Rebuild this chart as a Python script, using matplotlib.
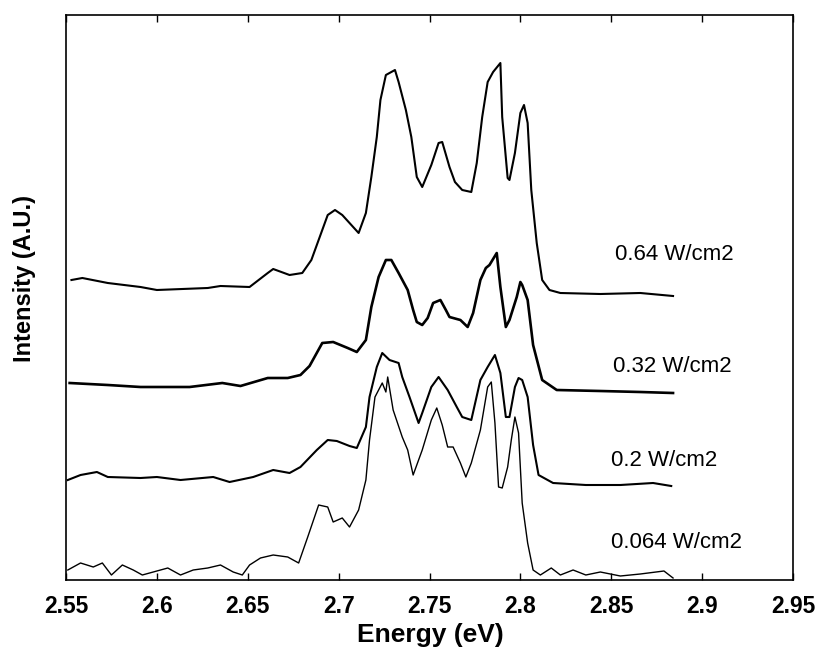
import matplotlib
matplotlib.use("Agg")
import matplotlib.pyplot as plt

plt.rcParams['font.family'] = ['Liberation Sans', 'DejaVu Sans']

# ---- data (energy in eV, intensity in arbitrary units) ----
e_064W = [2.553, 2.559, 2.573, 2.591, 2.600, 2.628, 2.635, 2.651, 2.661, 2.664, 2.673, 2.680,
          2.685, 2.689, 2.694, 2.698, 2.702, 2.706, 2.711, 2.715, 2.718, 2.721, 2.723, 2.726,
          2.731, 2.733, 2.737, 2.740, 2.743, 2.746, 2.751, 2.755, 2.757, 2.761, 2.764, 2.768,
          2.773, 2.776, 2.779, 2.782, 2.785, 2.789, 2.790, 2.793, 2.794, 2.797, 2.800, 2.802,
          2.804, 2.806, 2.809, 2.812, 2.816, 2.822, 2.844, 2.866, 2.884]
i_064W = [300, 302, 297, 293, 290, 292, 294, 293, 307, 311, 305, 307,
          320, 340, 365, 370, 365, 357, 347, 367, 403, 443, 480, 505,
          510, 498, 470, 443, 403, 393, 415, 437, 438, 413, 398, 390,
          388, 417, 463, 498, 508, 517, 463, 402, 400, 427, 467, 475,
          457, 390, 337, 300, 290, 287, 286, 287, 284]

e_032W = [2.552, 2.573, 2.591, 2.618, 2.636, 2.646, 2.661, 2.672, 2.679, 2.684, 2.691, 2.697,
          2.705, 2.710, 2.715, 2.718, 2.722, 2.726, 2.729, 2.733, 2.738, 2.741, 2.743, 2.746,
          2.749, 2.752, 2.756, 2.759, 2.761, 2.767, 2.771, 2.774, 2.778, 2.781, 2.783, 2.787,
          2.789, 2.792, 2.794, 2.798, 2.800, 2.801, 2.804, 2.807, 2.812, 2.820, 2.844, 2.866, 2.884]
i_032W = [197, 195, 193, 193, 197, 194, 202, 202, 205, 214, 237, 238,
          232, 228, 240, 273, 303, 320, 320, 307, 290, 270, 258, 255,
          262, 277, 280, 270, 263, 260, 253, 267, 300, 312, 315, 327,
          293, 253, 260, 283, 298, 295, 280, 235, 200, 190, 189, 188, 187]

e_02W = [2.551, 2.558, 2.567, 2.573, 2.591, 2.600, 2.613, 2.631, 2.640, 2.653, 2.664, 2.673,
         2.679, 2.688, 2.694, 2.699, 2.706, 2.710, 2.715, 2.717, 2.721, 2.724, 2.728, 2.733,
         2.735, 2.739, 2.744, 2.746, 2.751, 2.755, 2.760, 2.765, 2.768, 2.773, 2.778, 2.782,
         2.786, 2.789, 2.792, 2.794, 2.797, 2.799, 2.801, 2.804, 2.807, 2.810, 2.818, 2.836,
         2.855, 2.873, 2.883]
i_02W = [100, 105, 108, 103, 102, 103, 100, 103, 98, 103, 110, 107,
         113, 130, 140, 139, 134, 132, 153, 183, 213, 227, 220, 217,
         203, 183, 157, 167, 193, 203, 190, 173, 163, 160, 200, 213,
         225, 207, 163, 163, 193, 202, 200, 183, 135, 105, 97, 95,
         95, 97, 94]

e_0064W = [2.551, 2.558, 2.565, 2.570, 2.575, 2.581, 2.587, 2.592, 2.598, 2.606, 2.613, 2.620,
           2.628, 2.635, 2.642, 2.647, 2.651, 2.657, 2.664, 2.672, 2.678, 2.683, 2.689, 2.694,
           2.697, 2.702, 2.706, 2.711, 2.715, 2.717, 2.720, 2.724, 2.726, 2.727, 2.730, 2.735,
           2.738, 2.741, 2.746, 2.751, 2.754, 2.757, 2.760, 2.763, 2.767, 2.770, 2.773, 2.778,
           2.782, 2.784, 2.786, 2.788, 2.790, 2.793, 2.795, 2.797, 2.799, 2.801, 2.804, 2.807,
           2.811, 2.817, 2.822, 2.829, 2.836, 2.844, 2.855, 2.866, 2.879, 2.884]
i_0064W = [10, 17, 13, 17, 5, 15, 10, 5, 8, 12, 5, 10,
           12, 15, 8, 5, 15, 22, 25, 23, 17, 43, 75, 73,
           58, 62, 53, 70, 100, 140, 183, 197, 188, 203, 170, 143,
           130, 105, 130, 160, 172, 155, 133, 133, 117, 103, 117, 150,
           193, 198, 157, 93, 92, 113, 140, 163, 147, 77, 37, 10,
           5, 12, 5, 10, 5, 8, 4, 6, 9, 2]

series = [
    (e_064W, i_064W, "0.64 W/cm2", 1.5),
    (e_032W, i_032W, "0.32 W/cm2", 1.9),
    (e_02W, i_02W, "0.2 W/cm2", 1.5),
    (e_0064W, i_0064W, "0.064 W/cm2", 1.0),
]
label_pos = [(2.852, 326), (2.851, 213), (2.850, 120), (2.850, 38)]

xticks = [2.55, 2.6, 2.65, 2.7, 2.75, 2.8, 2.85, 2.9, 2.95]
xtick_labels = ["2.55", "2.6", "2.65", "2.7", "2.75", "2.8", "2.85", "2.9", "2.95"]

# ---- figure ----
fig = plt.figure(figsize=(8.17, 6.5), dpi=100)
ax = fig.add_axes([66/817, 1 - 580/650, 727/817, 565/650])

for (e, inten, lab, lw), (lx, ly) in zip(series, label_pos):
    ax.plot(e, inten, color='black', linewidth=lw)
    ax.text(lx, ly, lab, fontsize=16, ha='left', va='center', color='black')

ax.set_xlim(2.55, 2.95)
ax.set_ylim(0, 565)
ax.set_xticks(xticks)
ax.set_xticklabels(xtick_labels, fontsize=16.5, fontweight='bold')
ax.set_yticks([])
ax.tick_params(axis='x', direction='in', length=5, width=1, top=True, pad=11)
for sp in ax.spines.values():
    sp.set_linewidth(1.2)

fig.text(430/817, 1 - 635/650, "Energy (eV)", fontsize=19, fontweight='bold',
         ha='center', va='center')
fig.text(25/817, 1 - 278/650, "Intensity (A.U.)", fontsize=17, fontweight='bold',
         ha='center', va='center', rotation=90)

fig.savefig("out.png", dpi=100)
